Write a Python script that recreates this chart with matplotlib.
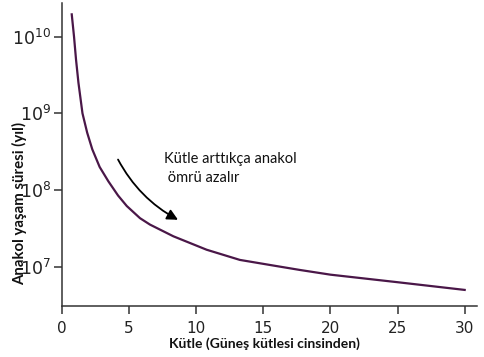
import matplotlib.pyplot as plt
from matplotlib.ticker import NullLocator

# Kütle (Güneş kütlesi) ve anakol yaşam süresi (yıl)
kutle = [0.72, 0.89, 1.04, 1.22, 1.52, 1.87, 2.25, 2.8, 3.45, 4.17, 4.82,
         5.81, 6.55, 8.29, 10.77, 13.25, 15.73, 17.72, 20.0, 25.0, 30.0]
omur = [1.95e10, 1.0e10, 5.0e9, 2.5e9, 1.0e9, 5.6e8, 3.4e8, 2.0e8, 1.3e8,
        8.5e7, 6.2e7, 4.3e7, 3.55e7, 2.5e7, 1.67e7, 1.23e7, 1.04e7, 9.1e6,
        7.9e6, 6.3e6, 5.0e6]

x_ticks = [0, 5, 10, 15, 20, 25, 30]
y_ticks = [1e7, 1e8, 1e9, 1e10]

plt.rcParams['mathtext.default'] = 'regular'

fig = plt.figure(figsize=(4.85, 3.57), dpi=100)
ax = fig.add_axes([0.128, 0.143, 0.855, 0.849])

ax.plot(kutle, omur, color='#4a1748', lw=1.6, solid_joinstyle='round')

ax.set_yscale('log')
ax.set_xlim(0, 30.9)
ax.set_ylim(10 ** 6.49, 10 ** 10.44)
ax.set_xticks(x_ticks)
ax.set_yticks(y_ticks)
ax.yaxis.set_minor_locator(NullLocator())

for s in ['top', 'right']:
    ax.spines[s].set_visible(False)
for s in ['left', 'bottom']:
    ax.spines[s].set_color('#333333')
    ax.spines[s].set_linewidth(1.1)

ax.tick_params(axis='both', colors='#333333', length=6, width=1.1,
               labelsize=11, labelcolor='#222222')
ax.tick_params(axis='y', labelsize=12.5, pad=2)
ax.tick_params(axis='x', pad=5)

fig.text(0.545, 0.038, 'Kütle (Güneş kütlesi cinsinden)', ha='center', va='center',
         fontsize=10, fontweight='bold', family='Lato', color='#111111')
fig.text(0.04, 0.43, 'Anakol yaşam süresi (yıl)', ha='center', va='center',
         rotation=90, fontsize=10.8, fontweight='bold', family='Lato', color='#111111')

ax.annotate('', xy=(8.64, 4.1e7), xytext=(4.17, 2.5e8),
            arrowprops=dict(arrowstyle='-|>', color='black', lw=1.3,
                            mutation_scale=16, shrinkA=0, shrinkB=0,
                            connectionstyle='arc3,rad=0.15'))
ax.text(7.6, 10 ** 8.28, 'Kütle arttıkça anakol\n ömrü azalır', ha='left', va='center',
        fontsize=10.5, family='Lato', color='#111111', linespacing=1.4)

fig.savefig('out.png', dpi=100)
